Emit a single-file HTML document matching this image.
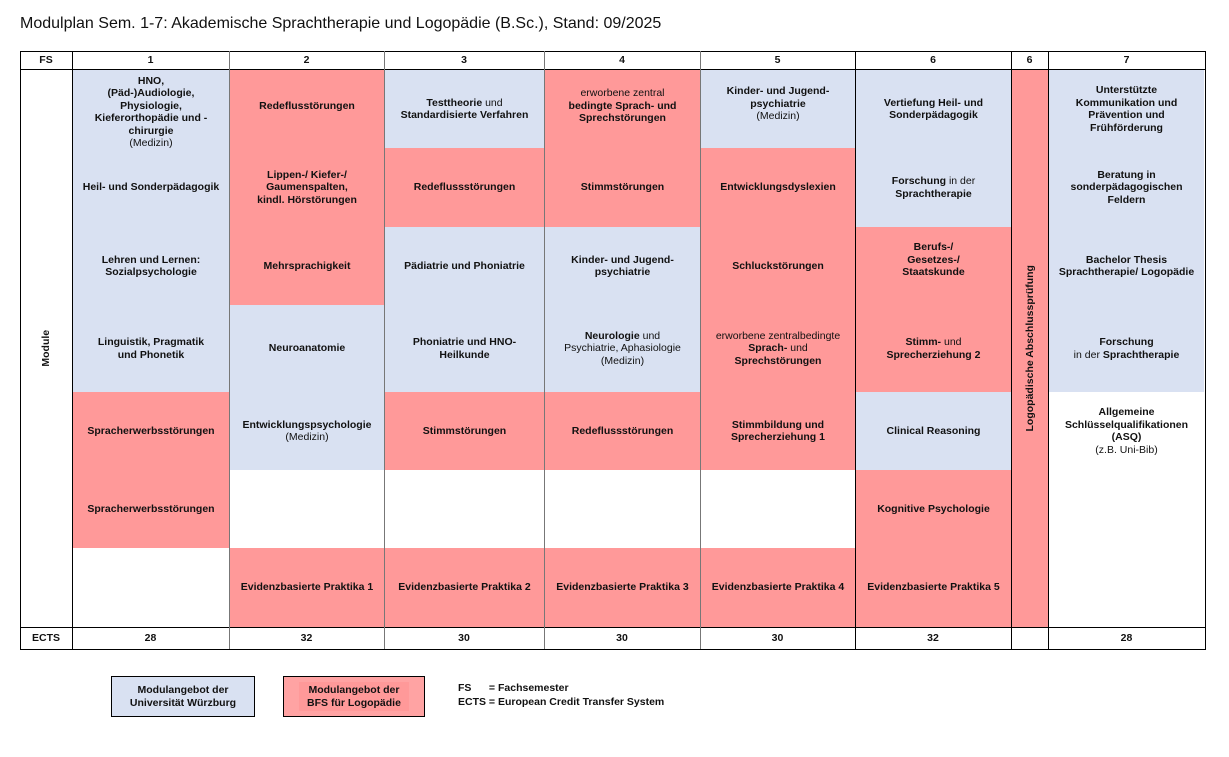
<!DOCTYPE html>
<html><head><meta charset="utf-8"><style>
body{margin:0;width:1229px;height:757px;background:#fff;position:relative;font-family:"Liberation Sans",Arial,sans-serif;overflow:hidden}
.c{position:absolute;display:flex;align-items:center;justify-content:center;text-align:center;font-size:10.5px;font-weight:bold;color:#111;line-height:12.5px;box-sizing:border-box;padding:0 4px}
.b{background:#d9e1f2}.p{background:#ff9999}
.n{font-weight:normal}
.v{position:absolute;width:1px;background:#777}
.h{position:absolute;height:1px;background:#000}
</style></head><body>
<div style="position:absolute;left:20px;top:15px;font-size:16px;color:#111">Modulplan Sem. 1-7: Akademische Sprachtherapie und Logopädie (B.Sc.), Stand: 09/2025</div>

<div class="c" style="left:20px;top:51px;width:52px;height:19px">FS</div>
<div class="c" style="left:72px;top:51px;width:157px;height:19px">1</div>
<div class="c" style="left:229px;top:51px;width:155px;height:19px">2</div>
<div class="c" style="left:384px;top:51px;width:160px;height:19px">3</div>
<div class="c" style="left:544px;top:51px;width:156px;height:19px">4</div>
<div class="c" style="left:700px;top:51px;width:155px;height:19px">5</div>
<div class="c" style="left:855px;top:51px;width:156px;height:19px">6</div>
<div class="c" style="left:1011px;top:51px;width:37px;height:19px">6</div>
<div class="c" style="left:1048px;top:51px;width:157px;height:19px">7</div>

<div class="c" style="left:20px;top:70px;width:52px;height:557px"><span style="transform:rotate(-90deg);white-space:nowrap">Module</span></div>

<div class="c b" style="left:73px;top:70px;width:156px;height:78px;padding-top:6px"><div>HNO,<br>(Päd-)Audiologie,<br>Physiologie,<br>Kieferorthopädie und -<br>chirurgie<br><span class="n">(Medizin)</span></div></div>
<div class="c b" style="left:73px;top:148px;width:156px;height:79px">Heil- und Sonderpädagogik</div>
<div class="c b" style="left:73px;top:227px;width:156px;height:78px"><div>Lehren und Lernen:<br>Sozialpsychologie</div></div>
<div class="c b" style="left:73px;top:305px;width:156px;height:87px"><div>Linguistik, Pragmatik<br>und Phonetik</div></div>
<div class="c p" style="left:73px;top:392px;width:156px;height:78px">Spracherwerbsstörungen</div>
<div class="c p" style="left:73px;top:470px;width:156px;height:78px">Spracherwerbsstörungen</div>

<div class="c p" style="left:230px;top:70px;width:154px;height:78px;padding-bottom:6px">Redeflusstörungen</div>
<div class="c p" style="left:230px;top:148px;width:154px;height:79px"><div>Lippen-/ Kiefer-/<br>Gaumenspalten,<br>kindl. Hörstörungen</div></div>
<div class="c p" style="left:230px;top:227px;width:154px;height:78px">Mehrsprachigkeit</div>
<div class="c b" style="left:230px;top:305px;width:154px;height:87px">Neuroanatomie</div>
<div class="c b" style="left:230px;top:392px;width:154px;height:78px"><div>Entwicklungspsychologie<br><span class="n">(Medizin)</span></div></div>
<div class="c p" style="left:230px;top:548px;width:154px;height:79px">Evidenzbasierte Praktika 1</div>

<div class="c b" style="left:385px;top:70px;width:159px;height:78px"><div>Testtheorie <span class="n">und</span><br>Standardisierte Verfahren</div></div>
<div class="c p" style="left:385px;top:148px;width:159px;height:79px">Redeflussstörungen</div>
<div class="c b" style="left:385px;top:227px;width:159px;height:78px">Pädiatrie und Phoniatrie</div>
<div class="c b" style="left:385px;top:305px;width:159px;height:87px"><div>Phoniatrie und HNO-<br>Heilkunde</div></div>
<div class="c p" style="left:385px;top:392px;width:159px;height:78px">Stimmstörungen</div>
<div class="c p" style="left:385px;top:548px;width:159px;height:79px">Evidenzbasierte Praktika 2</div>

<div class="c p" style="left:545px;top:70px;width:155px;height:78px;padding-bottom:6px"><div><span class="n">erworbene zentral</span><br>bedingte Sprach- und<br>Sprechstörungen</div></div>
<div class="c p" style="left:545px;top:148px;width:155px;height:79px">Stimmstörungen</div>
<div class="c b" style="left:545px;top:227px;width:155px;height:78px"><div>Kinder- und Jugend-<br>psychiatrie</div></div>
<div class="c b" style="left:545px;top:305px;width:155px;height:87px"><div>Neurologie <span class="n">und</span><br><span class="n">Psychiatrie, Aphasiologie</span><br><span class="n">(Medizin)</span></div></div>
<div class="c p" style="left:545px;top:392px;width:155px;height:78px">Redeflussstörungen</div>
<div class="c p" style="left:545px;top:548px;width:155px;height:79px">Evidenzbasierte Praktika 3</div>

<div class="c b" style="left:701px;top:70px;width:154px;height:78px;padding-bottom:10px"><div>Kinder- und Jugend-<br>psychiatrie<br><span class="n">(Medizin)</span></div></div>
<div class="c p" style="left:701px;top:148px;width:154px;height:79px">Entwicklungsdyslexien</div>
<div class="c p" style="left:701px;top:227px;width:154px;height:78px">Schluckstörungen</div>
<div class="c p" style="left:701px;top:305px;width:154px;height:87px"><div><span class="n">erworbene zentralbedingte</span><br>Sprach- <span class="n">und</span><br>Sprechstörungen</div></div>
<div class="c p" style="left:701px;top:392px;width:154px;height:78px"><div>Stimmbildung und<br>Sprecherziehung 1</div></div>
<div class="c p" style="left:701px;top:548px;width:154px;height:79px">Evidenzbasierte Praktika 4</div>

<div class="c b" style="left:856px;top:70px;width:155px;height:78px"><div>Vertiefung Heil- und<br>Sonderpädagogik</div></div>
<div class="c b" style="left:856px;top:148px;width:155px;height:79px"><div>Forschung <span class="n">in der</span><br>Sprachtherapie</div></div>
<div class="c p" style="left:856px;top:227px;width:155px;height:78px;padding-bottom:12px"><div>Berufs-/<br>Gesetzes-/<br>Staatskunde</div></div>
<div class="c p" style="left:856px;top:305px;width:155px;height:87px"><div>Stimm- <span class="n">und</span><br>Sprecherziehung 2</div></div>
<div class="c b" style="left:856px;top:392px;width:155px;height:78px">Clinical Reasoning</div>
<div class="c p" style="left:856px;top:470px;width:155px;height:78px">Kognitive Psychologie</div>
<div class="c p" style="left:856px;top:548px;width:155px;height:79px">Evidenzbasierte Praktika 5</div>

<div class="c p" style="left:1012px;top:70px;width:36px;height:557px;padding-top:0"><span style="transform:rotate(-90deg);white-space:nowrap">Logopädische Abschlussprüfung</span></div>

<div class="c b" style="left:1049px;top:70px;width:155px;height:78px"><div>Unterstützte<br>Kommunikation und<br>Prävention und<br>Frühförderung</div></div>
<div class="c b" style="left:1049px;top:148px;width:155px;height:79px"><div>Beratung in<br>sonderpädagogischen<br>Feldern</div></div>
<div class="c b" style="left:1049px;top:227px;width:155px;height:78px"><div>Bachelor Thesis<br>Sprachtherapie/ Logopädie</div></div>
<div class="c b" style="left:1049px;top:305px;width:155px;height:87px"><div>Forschung<br><span class="n">in der</span> Sprachtherapie</div></div>
<div class="c" style="left:1049px;top:406px;width:155px;height:56px;align-items:flex-start"><div>Allgemeine<br>Schlüsselqualifikationen<br>(ASQ)<br><span class="n">(z.B. Uni-Bib)</span></div></div>

<div class="c" style="left:20px;top:627px;width:52px;height:22px">ECTS</div>
<div class="c" style="left:72px;top:627px;width:157px;height:22px">28</div>
<div class="c" style="left:229px;top:627px;width:155px;height:22px">32</div>
<div class="c" style="left:384px;top:627px;width:160px;height:22px">30</div>
<div class="c" style="left:544px;top:627px;width:156px;height:22px">30</div>
<div class="c" style="left:700px;top:627px;width:155px;height:22px">30</div>
<div class="c" style="left:855px;top:627px;width:156px;height:22px">32</div>
<div class="c" style="left:1048px;top:627px;width:157px;height:22px">28</div>

<div style="position:absolute;left:20px;top:51px;width:1184px;height:597px;border:1px solid #000"></div>
<div class="h" style="left:20px;top:69px;width:1185px"></div>
<div class="h" style="left:20px;top:627px;width:1185px"></div>
<div class="v" style="left:72px;top:51px;height:598px;background:#000"></div>
<div class="v" style="left:229px;top:51px;height:598px"></div>
<div class="v" style="left:384px;top:51px;height:598px"></div>
<div class="v" style="left:544px;top:51px;height:598px"></div>
<div class="v" style="left:700px;top:51px;height:598px"></div>
<div class="v" style="left:855px;top:51px;height:598px;background:#000"></div>
<div class="v" style="left:1011px;top:51px;height:598px;background:#000"></div>
<div class="v" style="left:1048px;top:51px;height:598px;background:#000"></div>

<div class="c b" style="left:111px;top:676px;width:144px;height:41px;border:1px solid #000"><div>Modulangebot der<br>Universität Würzburg</div></div>
<div class="c p" style="left:283px;top:676px;width:142px;height:41px;border:1px solid #000;background:#ffa3a3"><div style="background:#ff9999;padding:2px 8px">Modulangebot der<br>BFS für Logopädie</div></div>
<div style="position:absolute;left:458px;top:682px;font-size:10.5px;font-weight:bold;line-height:13.5px;color:#111;white-space:pre">FS      = Fachsemester
ECTS = European Credit Transfer System</div>
</body></html>
